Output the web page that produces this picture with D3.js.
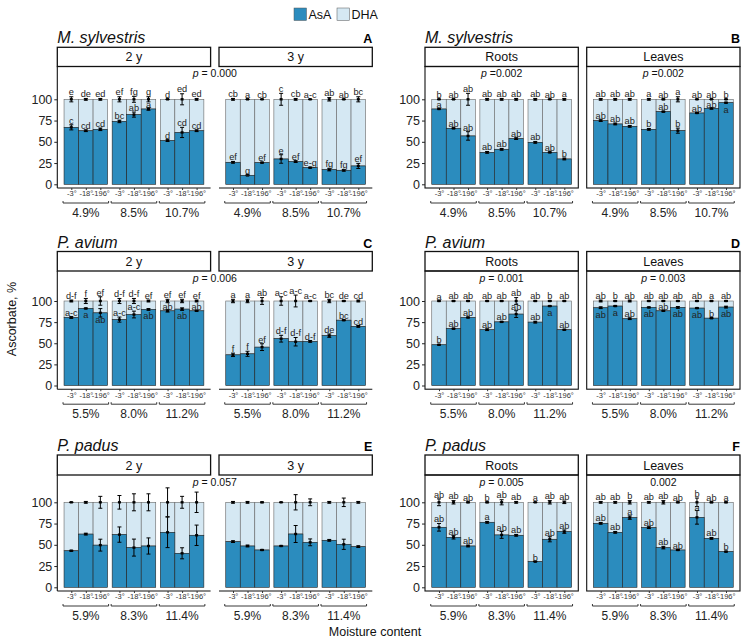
<!DOCTYPE html>
<html>
<head>
<meta charset="utf-8">
<script src="https://cdn.jsdelivr.net/npm/d3@7"></script>
<style>
  body { margin: 0; background: #fff; }
  svg { font-family: "Liberation Sans", Arial, sans-serif; }
</style>
</head>
<body>
<svg id="chart" width="750" height="641"></svg>
<script>
// storage temperatures and seed moisture levels
const temps = ["-3°", "-18°", "-196°"];
const moistSylv = ["4.9%", "8.5%", "10.7%"];
const moistAvium = ["5.5%", "8.0%", "11.2%"];
const moistPadus = ["5.9%", "8.3%", "11.4%"];

// AsA share (%), its error, DHA error, letters (AsA / DHA)
// A: M. sylvestris, 2 y and 3 y
const asaA2 = [67, 63, 64.7, 74, 82, 88.6, 51.4, 61, 63];
const asaErrA2 = [3, 1, 1.5, 1.5, 3, 1.5, 1, 6, 1];
const dhaErrA2 = [3, 1, 1, 3, 3.5, 3, 0, 6.5, 1];
const asaLetA2 = ["c", "cd", "cd", "bc", "ab", "a", "d", "cd", "cd"];
const dhaLetA2 = ["e", "de", "ed", "ef", "fg", "g", "d", "ed", "ed"];
const asaA3 = [25.9, 10.6, 25.5, 29.8, 26.7, 19.6, 17.3, 16.5, 21.6];
const asaErrA3 = [1, 0.5, 0.5, 5, 1, 0.5, 1.5, 1, 3];
const dhaErrA3 = [1, 0, 0, 7, 1, 0, 2, 0, 3];
const asaLetA3 = ["ef", "g", "ef", "e", "ef", "e-g", "fg", "fg", "ef"];
const dhaLetA3 = ["cb", "a", "cb", "c", "cb", "a-c", "ab", "ab", "bc"];

// B: M. sylvestris, roots and leaves
const asaBR = [88.6, 65.9, 56.9, 37.6, 41.2, 53.7, 49.4, 37.6, 29.8];
const asaErrBR = [0, 0.5, 5, 1, 1, 1, 1, 0.5, 1];
const dhaErrBR = [0, 0, 7, 1, 1, 1, 1, 0, 1];
const asaLetBR = ["a", "ab", "ab", "ab", "ab", "ab", "ab", "ab", "b"];
const dhaLetBR = ["b", "ab", "ab", "ab", "ab", "ab", "ab", "ab", "a"];
const asaBL = [74.9, 71, 68.2, 64.7, 85.5, 63.1, 83.9, 89.4, 96];
const asaErrBL = [1, 1, 1, 1, 0.5, 3, 0.5, 1, 0.5];
const dhaErrBL = [1, 1, 1, 1, 0.5, 3, 0, 0, 0];
const asaLetBL = ["ab", "ab", "ab", "b", "ab", "b", "ab", "ab", "a"];
const dhaLetBL = ["ab", "ab", "ab", "a", "ab", "a", "ab", "ab", "b"];

// C: P. avium, 2 y and 3 y
const asaC2 = [80.5, 91.2, 86, 78, 84, 90, 88.4, 90.4, 88.4];
const asaErrC2 = [1, 0.5, 5, 3, 4, 1, 1.5, 1.5, 0.5];
const dhaErrC2 = [1, 3, 5, 3, 3, 1, 2, 2, 1];
const asaLetC2 = ["a-c", "a", "ab", "a-c", "a-c", "ab", "ab", "ab", "ab"];
const dhaLetC2 = ["d-f", "f", "ef", "d-f", "d-f", "ef", "ef", "ef", "ef"];
const asaC3 = [36.3, 37.5, 45.4, 55.4, 51.8, 52.2, 59, 77.3, 70];
const asaErrC3 = [2, 3, 4, 4, 5, 1, 2, 0.5, 1];
const dhaErrC3 = [2, 2, 4, 5, 7, 0.5, 2, 0.5, 1];
const asaLetC3 = ["f", "f", "ef", "d-f", "d-f", "d-f", "de", "bc", "cd"];
const dhaLetC3 = ["a", "a", "ab", "a-c", "a-c", "a-c", "bc", "de", "cd"];

// D: P. avium, roots and leaves
const asaDR = [48.2, 67.3, 80.5, 66, 75.3, 84.5, 75, 94, 66];
const asaErrDR = [0.5, 0.5, 0.5, 1, 0.5, 4, 1, 0.5, 0.5];
const dhaErrDR = [0, 0.5, 0.5, 0.5, 0.5, 4, 0.5, 0.5, 0.5];
const asaLetDR = ["b", "ab", "ab", "ab", "ab", "ab", "ab", "a", "ab"];
const dhaLetDR = ["a", "ab", "ab", "ab", "ab", "ab", "ab", "b", "ab"];
const asaDL = [92, 94, 79, 92.4, 88.4, 92.4, 91.6, 79.7, 92.8];
const asaErrDL = [1, 0.5, 1, 0.5, 0.5, 1, 0.5, 0.5, 1];
const dhaErrDL = [1, 0.5, 1, 0.5, 0.5, 0.5, 0.5, 0.5, 0.5];
const asaLetDL = ["ab", "a", "ab", "ab", "ab", "ab", "ab", "b", "ab"];
const dhaLetDL = ["ab", "b", "ab", "ab", "ab", "ab", "ab", "a", "ab"];

// E: P. padus, 2 y and 3 y (no letters)
const asaE2 = [43, 62.6, 49.6, 62, 46.7, 48.6, 64.7, 40, 61.2];
const asaErrE2 = [0.5, 1, 7, 9, 10, 9.5, 18, 6.5, 12];
const dhaErrE2 = [0, 1, 7, 8, 10, 10, 17, 7, 12];
const asaE3 = [53.7, 48.6, 43.9, 48.6, 62.7, 52.9, 55.3, 50.6, 47.8];
const asaErrE3 = [1, 1, 0.5, 0, 10, 4, 1, 6, 1];
const dhaErrE3 = [1, 1, 0.5, 0, 9, 4, 1, 5, 1];

// F: P. padus, roots and leaves
const asaFR = [70.6, 58.8, 48.6, 76.5, 61.6, 61.2, 30.2, 56.5, 65.5];
const asaErrFR = [4.5, 2, 1, 1, 4, 1, 0, 3, 2];
const dhaErrFR = [4, 2, 0.5, 0.5, 3, 1, 0, 2, 1.5];
const asaLetFR = ["ab", "ab", "ab", "a", "ab", "ab", "b", "ab", "ab"];
const dhaLetFR = ["ab", "ab", "ab", "b", "ab", "ab", "a", "ab", "ab"];
const asaFL = [75.3, 64.7, 82, 70.2, 46.7, 43.9, 82.3, 57.6, 42];
const asaErrFL = [1, 1, 2, 1, 1.5, 0.5, 8, 1, 0.5];
const dhaErrFL = [1, 1, 2, 1, 2, 0.5, 5, 0.5, 0.5];
const asaLetFL = ["ab", "ab", "a", "ab", "ab", "ab", "a", "ab", "b"];
const dhaLetFL = ["ab", "ab", "b", "ab", "ab", "ab", "b", "ab", "a"];

const colAsA = "#2b8cbe";
const colDHA = "#d5e8f3";

const svg = d3.select("#chart");
const facetW = 153.3, facetGap = 8.4;

// row geometry (pixels)
const rows = [
    { stripTop: 47.3, stripBot: 66.5, y100: 99.3, y0: 184.3 },
    { stripTop: 251.5, stripBot: 271, y100: 301, y0: 385.5 },
    { stripTop: 455, stripBot: 475, y100: 502.3, y0: 587.3 }
];

const panels = [
    { title: "M. sylvestris", tag: "A", row: 0, left: 57.3, boxed: false, moist: moistSylv, pSpan: [" = 0.000", true],
      facets: [
        { strip: "2 y", asa: asaA2, ea: asaErrA2, ed: dhaErrA2, la: asaLetA2, ld: dhaLetA2 },
        { strip: "3 y", asa: asaA3, ea: asaErrA3, ed: dhaErrA3, la: asaLetA3, ld: dhaLetA3 }] },
    { title: "M. sylvestris", tag: "B", row: 0, left: 425, boxed: true, moist: moistSylv,
      facets: [
        { strip: "Roots", p: [" =0.002", true], asa: asaBR, ea: asaErrBR, ed: dhaErrBR, la: asaLetBR, ld: dhaLetBR },
        { strip: "Leaves", p: [" =0.002", true], asa: asaBL, ea: asaErrBL, ed: dhaErrBL, la: asaLetBL, ld: dhaLetBL }] },
    { title: "P. avium", tag: "C", row: 1, left: 57.3, boxed: false, moist: moistAvium, pSpan: [" = 0.006", true],
      facets: [
        { strip: "2 y", asa: asaC2, ea: asaErrC2, ed: dhaErrC2, la: asaLetC2, ld: dhaLetC2 },
        { strip: "3 y", asa: asaC3, ea: asaErrC3, ed: dhaErrC3, la: asaLetC3, ld: dhaLetC3 }] },
    { title: "P. avium", tag: "D", row: 1, left: 425, boxed: true, moist: moistAvium,
      facets: [
        { strip: "Roots", p: [" = 0.001", true], asa: asaDR, ea: asaErrDR, ed: dhaErrDR, la: asaLetDR, ld: dhaLetDR },
        { strip: "Leaves", p: [" = 0.003", true], asa: asaDL, ea: asaErrDL, ed: dhaErrDL, la: asaLetDL, ld: dhaLetDL }] },
    { title: "P. padus", tag: "E", row: 2, left: 57.3, boxed: false, moist: moistPadus, pSpan: [" = 0.057", true],
      facets: [
        { strip: "2 y", asa: asaE2, ea: asaErrE2, ed: dhaErrE2 },
        { strip: "3 y", asa: asaE3, ea: asaErrE3, ed: dhaErrE3 }] },
    { title: "P. padus", tag: "F", row: 2, left: 425, boxed: true, moist: moistPadus,
      facets: [
        { strip: "Roots", p: [" = 0.005", true], asa: asaFR, ea: asaErrFR, ed: dhaErrFR, la: asaLetFR, ld: dhaLetFR },
        { strip: "Leaves", p: ["0.002", false], asa: asaFL, ea: asaErrFL, ed: dhaErrFL, la: asaLetFL, ld: dhaLetFL }] }
];

function pLabel(sel, x, yy, spec) {
    const t = sel.append("text").attr("x", x).attr("y", yy)
        .attr("text-anchor", "middle").attr("font-size", 10.5).attr("fill", "#111");
    if (spec[1]) t.append("tspan").attr("font-style", "italic").text("p");
    t.append("tspan").text(spec[0]);
}

function drawPanel(pn) {
    const geo = rows[pn.row];
    const y = d3.scaleLinear().domain([0, 100]).range([geo.y0, geo.y100]);
    const bottom = geo.y0 + 3.7;
    const g = svg.append("g");

    // title and tag
    g.append("text").attr("x", pn.left).attr("y", geo.stripTop - 4)
        .attr("font-size", 16).attr("font-style", "italic").attr("fill", "#111").text(pn.title);
    g.append("text").attr("x", pn.left + 2 * facetW + facetGap).attr("y", geo.stripTop - 4)
        .attr("text-anchor", "end").attr("font-size", 12.5).attr("font-weight", "bold").text(pn.tag);

    pn.facets.forEach((f, i) => {
        const fx = pn.left + i * (facetW + facetGap);
        const xg = d3.scaleBand().domain(pn.moist).range([fx, fx + facetW]).paddingInner(0.095).paddingOuter(0.14);
        const xb = d3.scaleBand().domain(temps).range([0, xg.bandwidth()]);
        const bars = f.asa.map((v, k) => ({
            key: pn.moist[Math.floor(k / 3)] + "|" + temps[k % 3],
            m: pn.moist[Math.floor(k / 3)], t: temps[k % 3],
            asa: v, ea: f.ea[k], ed: f.ed[k],
            la: f.la ? f.la[k] : null, ld: f.ld ? f.ld[k] : null
        }));
        const bx = d => xg(d.m) + xb(d.t);
        const bw = xb.bandwidth();
        const fg = g.append("g");

        // strip
        fg.append("rect").attr("x", fx).attr("y", geo.stripTop)
            .attr("width", facetW).attr("height", geo.stripBot - geo.stripTop)
            .attr("fill", "#fff").attr("stroke", "#111").attr("stroke-width", 1.3);
        fg.append("text").attr("x", fx + facetW / 2).attr("y", (geo.stripTop + geo.stripBot) / 2)
            .attr("dy", "0.36em").attr("text-anchor", "middle").attr("font-size", 12.5).attr("fill", "#111").text(f.strip);

        if (f.p) pLabel(fg, fx + facetW / 2, geo.stripBot + 10.5, f.p);

        // stacked bars
        fg.selectAll("rect.dha").data(bars).join("rect").attr("class", "dha")
            .attr("x", bx).attr("width", bw)
            .attr("y", y(100)).attr("height", d => y(d.asa) - y(100))
            .attr("fill", colDHA).attr("stroke", "#666").attr("stroke-width", 0.6);
        fg.selectAll("rect.asa").data(bars).join("rect").attr("class", "asa")
            .attr("x", bx).attr("width", bw)
            .attr("y", d => y(d.asa)).attr("height", d => y(0) - y(d.asa))
            .attr("fill", colAsA).attr("stroke", "#222").attr("stroke-width", 0.6);

        // error bars
        const errs = [];
        bars.forEach(d => {
            errs.push({ cx: bx(d) + bw / 2, v: d.asa, e: d.ea });
            errs.push({ cx: bx(d) + bw / 2, v: 100, e: d.ed });
        });
        const eg = fg.selectAll("g.err").data(errs).join("g").attr("class", "err")
            .attr("stroke", "#000").attr("stroke-width", 1);
        eg.append("line").attr("x1", d => d.cx).attr("x2", d => d.cx)
            .attr("y1", d => y(d.v - d.e)).attr("y2", d => y(d.v + d.e));
        eg.append("line").attr("x1", d => d.cx - 2).attr("x2", d => d.cx + 2)
            .attr("y1", d => y(d.v - d.e)).attr("y2", d => y(d.v - d.e));
        eg.append("line").attr("x1", d => d.cx - 2).attr("x2", d => d.cx + 2)
            .attr("y1", d => y(d.v + d.e)).attr("y2", d => y(d.v + d.e));
        eg.append("rect").attr("x", d => d.cx - 1.5).attr("y", d => y(d.v) - 1.2)
            .attr("width", 3).attr("height", 2.4).attr("fill", "#000").attr("stroke", "none");

        // letters
        const low = d => { const t = d.asa + d.ea + 5; return t <= 95.5 ? Math.min(t, 93.5) : d.asa - 8; };
        fg.selectAll("text.la").data(bars.filter(d => d.la)).join("text").attr("class", "la")
            .attr("x", d => bx(d) + bw / 2).attr("y", d => y(low(d))).attr("dy", "0.35em")
            .attr("text-anchor", "middle").attr("font-size", 9.2).attr("fill", "#222").text(d => d.la);
        fg.selectAll("text.ld").data(bars.filter(d => d.ld)).join("text").attr("class", "ld")
            .attr("x", d => bx(d) + bw / 2).attr("y", d => y(100 + d.ed + 5.3)).attr("dy", "0.35em")
            .attr("text-anchor", "middle").attr("font-size", 9.2).attr("fill", "#222").text(d => d.ld);

        // frame / axis lines
        if (pn.boxed) {
            fg.append("rect").attr("x", fx).attr("y", geo.stripBot)
                .attr("width", facetW).attr("height", bottom - geo.stripBot)
                .attr("fill", "none").attr("stroke", "#111").attr("stroke-width", 1.1);
        } else {
            fg.append("line").attr("x1", fx).attr("x2", fx + facetW).attr("y1", bottom).attr("y2", bottom)
                .attr("stroke", "#111").attr("stroke-width", 1.1);
            if (i === 0) fg.append("line").attr("x1", fx).attr("x2", fx).attr("y1", geo.stripBot).attr("y2", bottom)
                .attr("stroke", "#111").attr("stroke-width", 1.1);
        }

        // x axis: temperatures under each bar
        const xPos = d3.scaleOrdinal().domain(bars.map(d => d.key)).range(bars.map(d => bx(d) + bw / 2));
        const xa = fg.append("g").attr("transform", `translate(0,${bottom})`)
            .call(d3.axisBottom(xPos).tickSize(2).tickPadding(1).tickFormat(k => k.split("|")[1]));
        xa.select(".domain").remove();
        xa.selectAll("text").attr("font-size", 7.5).attr("fill", "#333").attr("font-family", null);
        xa.selectAll("line").attr("stroke", "#333");

        // moisture brackets
        pn.moist.forEach(m => {
            const x1 = xg(m) - 1, x2 = xg(m) + xg.bandwidth() + 1, by = bottom + 15;
            fg.append("path").attr("d", `M${x1},${by - 2}V${by}H${x2}V${by - 2}`)
                .attr("fill", "none").attr("stroke", "#222").attr("stroke-width", 0.9);
            fg.append("text").attr("x", (x1 + x2) / 2).attr("y", by + 14)
                .attr("text-anchor", "middle").attr("font-size", 12).attr("fill", "#222").text(m);
        });
    });

    // y axis on first facet
    const ya = g.append("g").attr("transform", `translate(${pn.left},0)`)
        .call(d3.axisLeft(y).tickValues([0, 25, 50, 75, 100]).tickSize(3).tickPadding(2));
    ya.select(".domain").remove();
    ya.selectAll("text").attr("font-size", 12.5).attr("fill", "#222").attr("font-family", null);
    ya.selectAll("line").attr("stroke", "#222");

    if (pn.pSpan) pLabel(g, pn.left + facetW + facetGap / 2, geo.stripBot + 10.5, pn.pSpan);
}

panels.forEach(drawPanel);

// legend
const legend = svg.append("g").attr("transform", "translate(294,8)");
[["AsA", colAsA], ["DHA", colDHA]].forEach(([name, c], i) => {
    const lg = legend.append("g").attr("transform", `translate(${i * 43},0)`);
    lg.append("rect").attr("width", 12.5).attr("height", 12.5).attr("fill", c).attr("stroke", "#555").attr("stroke-width", 0.5);
    lg.append("text").attr("x", 14.5).attr("y", 10.8).attr("font-size", 12.5).attr("fill", "#111").text(name);
});

// axis titles
svg.append("text").attr("x", 375).attr("y", 636).attr("text-anchor", "middle")
    .attr("font-size", 12.5).attr("fill", "#111").text("Moisture content");
svg.append("text").attr("transform", "translate(16,319) rotate(-90)").attr("text-anchor", "middle")
    .attr("font-size", 12.5).attr("fill", "#111").text("Ascorbate, %");
</script>
</body>
</html>
